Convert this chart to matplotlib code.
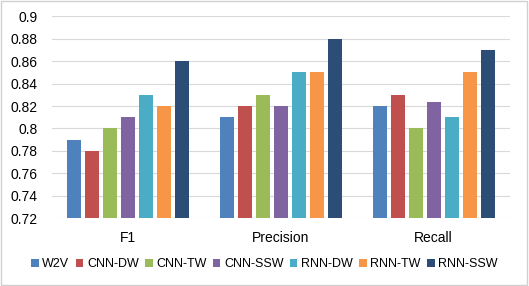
import numpy as np
import matplotlib.pyplot as plt
from matplotlib.patches import Rectangle

plt.rcParams['font.family'] = ['Liberation Sans', 'DejaVu Sans']

categories = ['F1', 'Precision', 'Recall']
models = ['W2V', 'CNN-DW', 'CNN-TW', 'CNN-SSW', 'RNN-DW', 'RNN-TW', 'RNN-SSW']
scores = {
    'W2V':     [0.79, 0.81, 0.82],
    'CNN-DW':  [0.78, 0.82, 0.83],
    'CNN-TW':  [0.80, 0.83, 0.80],
    'CNN-SSW': [0.81, 0.82, 0.824],
    'RNN-DW':  [0.83, 0.85, 0.81],
    'RNN-TW':  [0.82, 0.85, 0.85],
    'RNN-SSW': [0.86, 0.88, 0.87],
}
colors = ['#4F81BD', '#C0504D', '#9BBB59', '#8064A2', '#4BACC6', '#F79646', '#2C4D75']
yticks = [0.72, 0.74, 0.76, 0.78, 0.8, 0.82, 0.84, 0.86, 0.88, 0.9]
ytick_labels = ['0.72', '0.74', '0.76', '0.78', '0.8', '0.82', '0.84', '0.86', '0.88', '0.9']

fig = plt.figure(figsize=(5.29, 2.86), dpi=100)
ax = fig.add_axes([0.098, 0.237, 0.866, 0.706])

x = np.arange(len(categories))
step = 0.118   # slot per bar
w = 0.092      # visible bar width
for i, m in enumerate(models):
    ax.bar(x + (i - 3) * step, np.array(scores[m]) - 0.72, w, bottom=0.72,
           color=colors[i], linewidth=0, label=m, zorder=3)

ax.set_xlim(-0.5, 2.5)
ax.set_ylim(0.72, 0.9)
ax.set_yticks(yticks)
ax.set_yticklabels(ytick_labels, fontsize=10)
ax.set_xticks(x)
ax.set_xticklabels(categories, fontsize=10)
ax.tick_params(length=0)
ax.tick_params(axis='y', pad=10)
ax.tick_params(axis='x', pad=9)
ax.grid(axis='y', color='#D9D9D9', linewidth=0.8, zorder=0)
for s in ax.spines.values():
    s.set_visible(False)

fig.legend(loc='center', bbox_to_anchor=(0.5, 0.077), ncol=7, frameon=False,
           fontsize=9, handlelength=0.6, handleheight=0.6, handletextpad=0.3,
           columnspacing=0.5)

fig.patches.append(Rectangle((0.002, 0.003), 0.995, 0.993, transform=fig.transFigure,
                             fill=False, edgecolor='#D0D0D0', linewidth=1))

fig.savefig('out.png', dpi=100)
